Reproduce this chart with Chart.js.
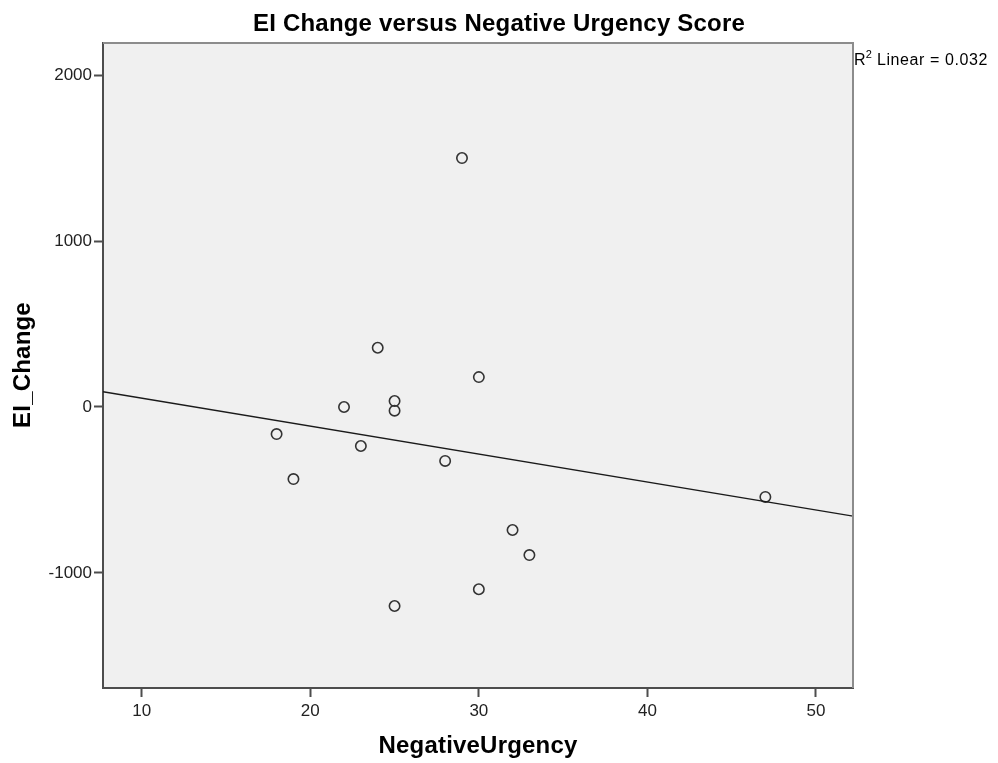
<!DOCTYPE html>
<html>
<head>
<meta charset="utf-8">
<title>EI Change versus Negative Urgency Score</title>
<script src="https://cdn.jsdelivr.net/npm/chart.js@4/dist/chart.umd.min.js"></script>
<style>
  html, body { margin: 0; padding: 0; background: #ffffff; }
  canvas { display: block; }
</style>
</head>
<body>
<canvas id="chart" width="998" height="763"></canvas>
<script>
// Observations: Negative Urgency score and EI change per participant
const negativeUrgency = [29, 24, 30, 22, 25, 25, 18, 23, 19, 28, 47, 32, 33, 30, 25];
const eiChange = [1500, 357, 180, 0, 36, -22, -163, -235, -434, -325, -542, -741, -892, -1098, -1199];

// Axis extents and tick marks
const xRange = [7.7, 52.2];
const yRange = [-1693, 2193];
const xTicks = [10, 20, 30, 40, 50];
const yTicks = [-1000, 0, 1000, 2000];

const chartTitle = 'EI Change versus Negative Urgency Score';
const xTitle = 'NegativeUrgency';
const yTitle = 'EI_Change';
const fitLabel = 'Linear = 0.032';

// Least-squares fit line through the observations
const n = negativeUrgency.length;
const mx = negativeUrgency.reduce((a, b) => a + b, 0) / n;
const my = eiChange.reduce((a, b) => a + b, 0) / n;
let sxy = 0, sxx = 0;
for (let i = 0; i < n; i++) {
  sxy += (negativeUrgency[i] - mx) * (eiChange[i] - my);
  sxx += (negativeUrgency[i] - mx) ** 2;
}
const slope = sxy / sxx;
const intercept = my - slope * mx;
const fitPoints = xRange.map(x => ({ x: x, y: intercept + slope * x }));

const points = negativeUrgency.map((x, i) => ({ x: x, y: eiChange[i] }));

const FONT = '"Liberation Sans", Arial, sans-serif';

const decorations = {
  id: 'decorations',
  beforeDraw(chart) {
    const { ctx, chartArea: a } = chart;
    ctx.save();
    ctx.fillStyle = '#f0f0f0';
    ctx.fillRect(a.left, a.top, a.right - a.left, a.bottom - a.top);
    ctx.restore();
  },
  afterDraw(chart) {
    const { ctx, chartArea: a } = chart;
    ctx.save();
    // top and right frame
    ctx.strokeStyle = '#8c8c8c';
    ctx.lineWidth = 2;
    ctx.beginPath();
    ctx.moveTo(a.left, a.top);
    ctx.lineTo(a.right, a.top);
    ctx.lineTo(a.right, a.bottom);
    ctx.stroke();

    ctx.fillStyle = '#000000';
    ctx.textBaseline = 'alphabetic';
    ctx.textAlign = 'left';

    // title, centred on the canvas
    ctx.font = 'bold 24px ' + FONT;
    ctx.letterSpacing = '0.2px';
    let w = ctx.measureText(chartTitle).width;
    ctx.fillText(chartTitle, chart.width / 2 - w / 2, 31);

    // axis titles
    ctx.font = 'bold 24px ' + FONT;
    ctx.letterSpacing = '0.2px';
    w = ctx.measureText(xTitle).width;
    ctx.fillText(xTitle, (a.left + a.right) / 2 - w / 2, 753);
    w = ctx.measureText(yTitle).width;
    ctx.save();
    ctx.translate(30, 365);
    ctx.rotate(-Math.PI / 2);
    ctx.fillText(yTitle, -w / 2, 0);
    ctx.restore();

    // fit annotation
    ctx.letterSpacing = '0.6px';
    ctx.font = '16px ' + FONT;
    const rx = a.right + 1;
    ctx.fillText('R', rx, 65);
    const rw = ctx.measureText('R').width;
    ctx.font = '11px ' + FONT;
    ctx.fillText('2', rx + rw - 0.5, 58);
    const sw = ctx.measureText('2').width;
    ctx.font = '16px ' + FONT;
    ctx.fillText(' ' + fitLabel, rx + rw + sw - 1, 65);
    ctx.restore();
  }
};

new Chart(document.getElementById('chart'), {
  type: 'scatter',
  data: {
    datasets: [
      {
        type: 'line',
        data: fitPoints,
        borderColor: '#1a1a1a',
        borderWidth: 1.3,
        pointRadius: 0,
        fill: false
      },
      {
        data: points,
        pointRadius: 5.2,
        pointBorderWidth: 1.6,
        pointBorderColor: '#333333',
        pointBackgroundColor: 'rgba(0,0,0,0)'
      }
    ]
  },
  options: {
    responsive: false,
    devicePixelRatio: 1,
    animation: false,
    layout: { padding: { top: 43, right: 145, left: 0, bottom: 0 } },
    plugins: {
      legend: { display: false },
      tooltip: { enabled: false },
      title: { display: false }
    },
    scales: {
      x: {
        type: 'linear',
        min: xRange[0],
        max: xRange[1],
        afterBuildTicks(scale) { scale.ticks = xTicks.map(v => ({ value: v })); },
        afterFit(scale) { scale.height = 75; },
        grid: { drawOnChartArea: false, drawTicks: true, tickLength: 9, tickWidth: 2, tickColor: '#4d4d4d' },
        border: { display: true, color: '#4d4d4d', width: 2 },
        ticks: {
          color: '#222222',
          font: { family: FONT, size: 17 },
          padding: 4,
          maxRotation: 0,
          callback: v => String(v)
        }
      },
      y: {
        type: 'linear',
        min: yRange[0],
        max: yRange[1],
        afterBuildTicks(scale) { scale.ticks = yTicks.map(v => ({ value: v })); },
        afterFit(scale) { scale.width = 103; },
        grid: { drawOnChartArea: false, drawTicks: true, tickLength: 9, tickWidth: 2, tickColor: '#4d4d4d' },
        border: { display: true, color: '#4d4d4d', width: 2 },
        ticks: {
          color: '#222222',
          font: { family: FONT, size: 17 },
          padding: 2,
          callback: v => String(v)
        }
      }
    }
  },
  plugins: [decorations]
});
</script>
</body>
</html>
